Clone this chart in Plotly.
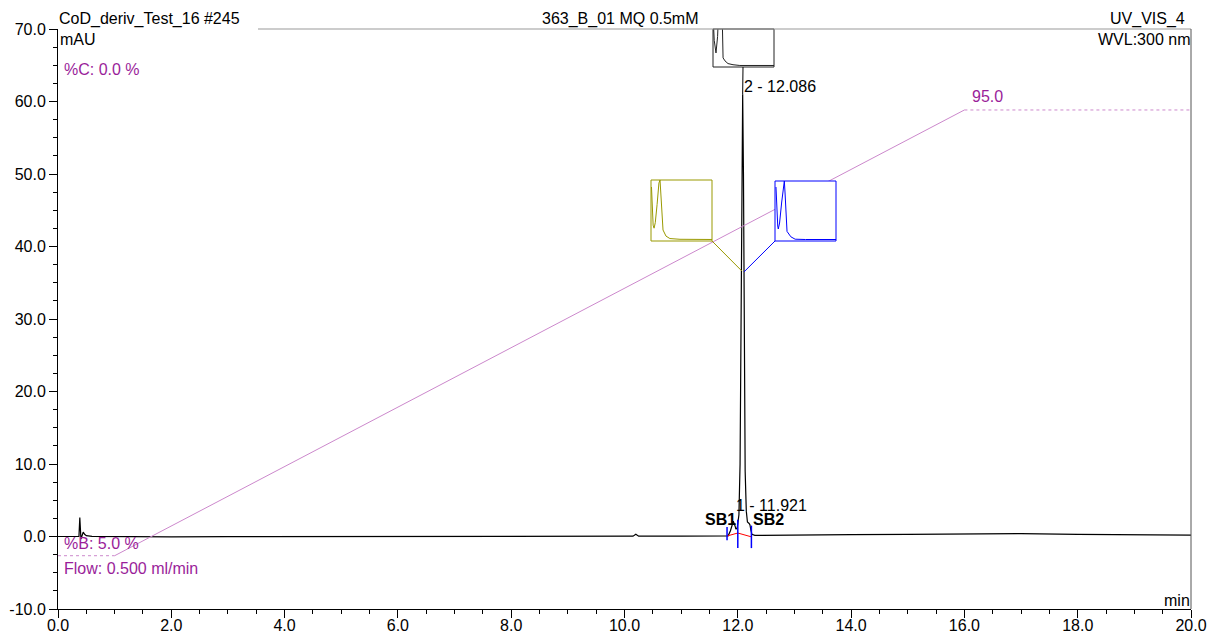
import plotly.graph_objects as go

# ---------------- data ----------------
time_min = [0.00, 0.20, 0.37, 0.385, 0.395, 0.405, 0.42, 0.445, 0.47, 0.50, 0.60,
            1.0, 2.0, 3.0, 4.0, 5.0, 6.0, 7.0, 8.0, 9.0, 10.0, 10.15, 10.2, 10.25,
            11.0, 11.5, 11.80, 11.83, 11.87, 11.90, 11.921, 11.94, 11.97, 11.99,
            12.02, 12.04, 12.06, 12.075, 12.086, 12.10, 12.115, 12.13, 12.15, 12.17,
            12.20, 12.215, 12.23, 12.25, 12.30, 12.5, 13.0, 14.0, 15.0, 16.0, 17.0,
            18.0, 19.0, 20.0]
signal_mAU = [0.00, 0.00, 0.02, 2.6, 0.5, -0.35, 0.0, 0.6, 0.3, 0.12, 0.03,
              0.0, -0.05, -0.03, -0.02, -0.02, -0.03, -0.02, 0.0, 0.0, 0.02, 0.05, 0.3, 0.05,
              0.05, 0.05, 0.07, 0.1, 0.8, 1.7, 2.1, 1.7, 1.0, 1.2,
              3.0, 10.0, 35.0, 56.0, 61.0, 50.0, 25.0, 9.0, 3.5, 2.0,
              1.8, 1.6, 0.9, 0.3, 0.15, 0.15, 0.2, 0.25, 0.3, 0.35, 0.4,
              0.3, 0.25, 0.2]

gradient_time = [0.0, 1.0, 16.0, 20.0]
gradient_B = [5.0, 5.0, 95.0, 95.0]

# integration baseline (red) and delimiters (blue)
integ_time = [11.81, 12.00, 12.25]
integ_base = [0.07, 0.48, -0.07]
delim_time = [11.81, 12.00, 12.24]
delim_low = [-0.5, -1.6, -1.6]
delim_high = [1.3, 2.3, 1.5]

peak_labels = ["1 - 11.921", "2 - 12.086"]

x_ticks = [0, 2, 4, 6, 8, 10, 12, 14, 16, 18, 20]
y_ticks = [-10, 0, 10, 20, 30, 40, 50, 60, 70]

# inset curves (normalised to box)
ins_black_x = [0.0, 0.02, 0.049, 0.075, 0.09, 0.12, 0.15, 0.165, 0.197, 0.246, 0.328, 0.44, 1.0]
ins_black_y = [1.4, 0.7, 0.37, 0.8, 1.4, 1.6, 1.4, 0.24, 0.16, 0.09, 0.06, 0.04, 0.04]
ins_olive_x = [0.008, 0.02, 0.035, 0.05, 0.07, 0.10, 0.13, 0.148, 0.16, 0.175, 0.197, 0.246, 0.31, 0.475, 1.0]
ins_olive_y = [0.885, 0.5, 0.26, 0.21, 0.3, 0.6, 0.95, 1.0, 0.8, 0.4, 0.18, 0.08, 0.04, 0.028, 0.025]
ins_blue_x = [0.016, 0.03, 0.045, 0.054, 0.075, 0.11, 0.14, 0.153, 0.165, 0.18, 0.197, 0.26, 0.33, 0.5, 1.0]
ins_blue_y = [0.9, 0.5, 0.25, 0.2, 0.3, 0.65, 0.95, 1.0, 0.8, 0.4, 0.16, 0.07, 0.03, 0.025, 0.025]

# ---------------- layout constants ----------------
W, H = 1210, 637
L, R, T, B = 58, 19, 29, 28
PW, PH = W - L - R, H - T - B
FONT = "Liberation Sans, Arial, sans-serif"
PURPLE = "#9A1E9A"
GRAD = "#CC88CC"
OLIVE = "#999900"
BLUE = "#0000FF"


def px(x):
    return (x - L) / PW


def py(y):
    return (H - B - y) / PH


fig = go.Figure()

# gradient (%B) on hidden secondary axis
fig.add_trace(go.Scatter(x=[gradient_time[0], gradient_time[1], None, gradient_time[2], gradient_time[3]],
                         y=[gradient_B[0], gradient_B[1], None, gradient_B[2], gradient_B[3]],
                         mode="lines", line=dict(color=GRAD, width=1, dash="dot"),
                         yaxis="y2", hoverinfo="skip", showlegend=False))
fig.add_trace(go.Scatter(x=gradient_time[1:3], y=gradient_B[1:3], mode="lines",
                         line=dict(color=GRAD, width=1), yaxis="y2",
                         hoverinfo="skip", showlegend=False))

# chromatogram
fig.add_trace(go.Scatter(x=time_min, y=signal_mAU, mode="lines",
                         line=dict(color="black", width=1.2), showlegend=False))

# integration baseline
fig.add_trace(go.Scatter(x=integ_time, y=integ_base, mode="lines",
                         line=dict(color="#FF0000", width=1), showlegend=False))
dx, dy = [], []
for t, lo, hi in zip(delim_time, delim_low, delim_high):
    dx += [t, t, None]
    dy += [lo, hi, None]
fig.add_trace(go.Scatter(x=dx, y=dy, mode="lines", line=dict(color=BLUE, width=1.5),
                         showlegend=False))

# insets
insets = [
    (ins_black_x, ins_black_y, "#222222", (713, 774), (29, 67), "2"),
    (ins_olive_x, ins_olive_y, OLIVE, (651, 712), (180, 241), "3"),
    (ins_blue_x, ins_blue_y, BLUE, (775, 836), (181, 241), "4"),
]
for xs, ys, col, (x0, x1), (y0, y1), k in insets:
    fig.add_trace(go.Scatter(x=xs, y=ys, mode="lines", line=dict(color=col, width=1),
                             xaxis="x" + k, yaxis="y" + str(int(k) + 3), showlegend=False,
                             hoverinfo="skip"))
    fig.update_layout(**{
        "xaxis" + k: dict(domain=[px(x0), px(x1)], range=[0, 1], visible=False,
                          anchor="y" + str(int(k) + 3), automargin=False),
        "yaxis" + str(int(k) + 3): dict(domain=[py(y1), py(y0)], range=[0, 1], visible=False,
                                       anchor="x" + k, automargin=False),
    })
    fig.add_shape(type="rect", xref="paper", yref="paper", x0=px(x0), x1=px(x1),
                  y0=py(y1), y1=py(y0), line=dict(color=col, width=1))

# connectors (data coords)
fig.add_shape(type="line", xref="x", yref="y", x0=(712 - L) / 56.65, y0=(536.5 - 241) / 7.25,
              x1=12.074, y1=36.6, line=dict(color=OLIVE, width=1))
fig.add_shape(type="line", xref="x", yref="y", x0=(775 - L) / 56.65, y0=(536.5 - 241) / 7.25,
              x1=12.11, y1=36.5, line=dict(color=BLUE, width=1))
fig.add_shape(type="line", xref="x", yref="y", x0=12.092, y0=(536.5 - 67) / 7.25,
              x1=12.086, y1=61.0, line=dict(color="black", width=1))

# frame lines
fig.add_shape(type="line", xref="paper", yref="paper", x0=px(258), x1=1, y0=1, y1=1,
              line=dict(color="#999999", width=1))
fig.add_shape(type="line", xref="paper", yref="paper", x0=1, x1=1, y0=0, y1=1,
              line=dict(color="#555555", width=1))

anns = []


def ann(text, x, y, xanchor="left", color="black", xref="paper", yref="paper", size=16):
    anns.append(dict(text=text, x=x, y=y, xref=xref, yref=yref, xanchor=xanchor,
                     yanchor="middle", showarrow=False,
                     font=dict(family=FONT, size=size, color=color)))


ann("CoD_deriv_Test_16 #245", px(57), py(19))
ann("363_B_01 MQ 0.5mM", px(620), py(19), xanchor="center")
ann("UV_VIS_4", px(1187), py(19), xanchor="right")
ann("mAU", px(58), py(40))
ann("WVL:300 nm", px(1192), py(40), xanchor="right")
ann("min", px(1192), py(600), xanchor="right")
ann("%C: 0.0 %", px(62), py(69), color=PURPLE)
ann("%B: 5.0 %", px(62), py(543), color=PURPLE)
ann("Flow: 0.500 ml/min", px(62), py(568), color=PURPLE)
ann("95.0", 16.1, (536.5 - 96) / 7.25, color=PURPLE, xref="x", yref="y")
ann(peak_labels[1], 12.07, 62.1, xref="x", yref="y")
ann(peak_labels[0], 11.93, 4.3, xref="x", yref="y")
ann("<b>SB1</b>", 12.01, 2.4, xanchor="right", xref="x", yref="y", size=16)
ann("<b>SB2</b>", 12.23, 2.3, xref="x", yref="y", size=16)

fig.update_layout(
    width=W, height=H, autosize=False,
    margin=dict(l=L, r=R, t=T, b=B, pad=0),
    paper_bgcolor="white", plot_bgcolor="white",
    font=dict(family=FONT, size=16, color="black"),
    showlegend=False,
    annotations=anns,
    xaxis=dict(range=[0, 20], tickvals=x_ticks, ticktext=[f"{v:.1f}" for v in x_ticks],
               showgrid=False, zeroline=False, showline=True, linecolor="black", linewidth=1,
               ticks="outside", ticklen=8, tickcolor="black", automargin=False,
               ticklabelstandoff=-6,
               minor=dict(dtick=0.5, ticks="outside", ticklen=4, tickcolor="black", showgrid=False),
               tickfont=dict(family=FONT, size=16, color="black")),
    yaxis=dict(range=[-10, 70], tickvals=y_ticks, ticktext=[f"{v:.1f}" for v in y_ticks],
               showgrid=False, zeroline=False, showline=True, linecolor="black", linewidth=1,
               ticks="outside", ticklen=8, tickcolor="black", automargin=False,
               minor=dict(dtick=2.5, ticks="outside", ticklen=4, tickcolor="black", showgrid=False),
               tickfont=dict(family=FONT, size=16, color="black")),
    yaxis2=dict(range=[-5.76, 111.35], overlaying="y", visible=False, automargin=False),
)

fig.write_html("out.html", config={"displayModeBar": False},
               post_script="document.body.style.margin='0';")
